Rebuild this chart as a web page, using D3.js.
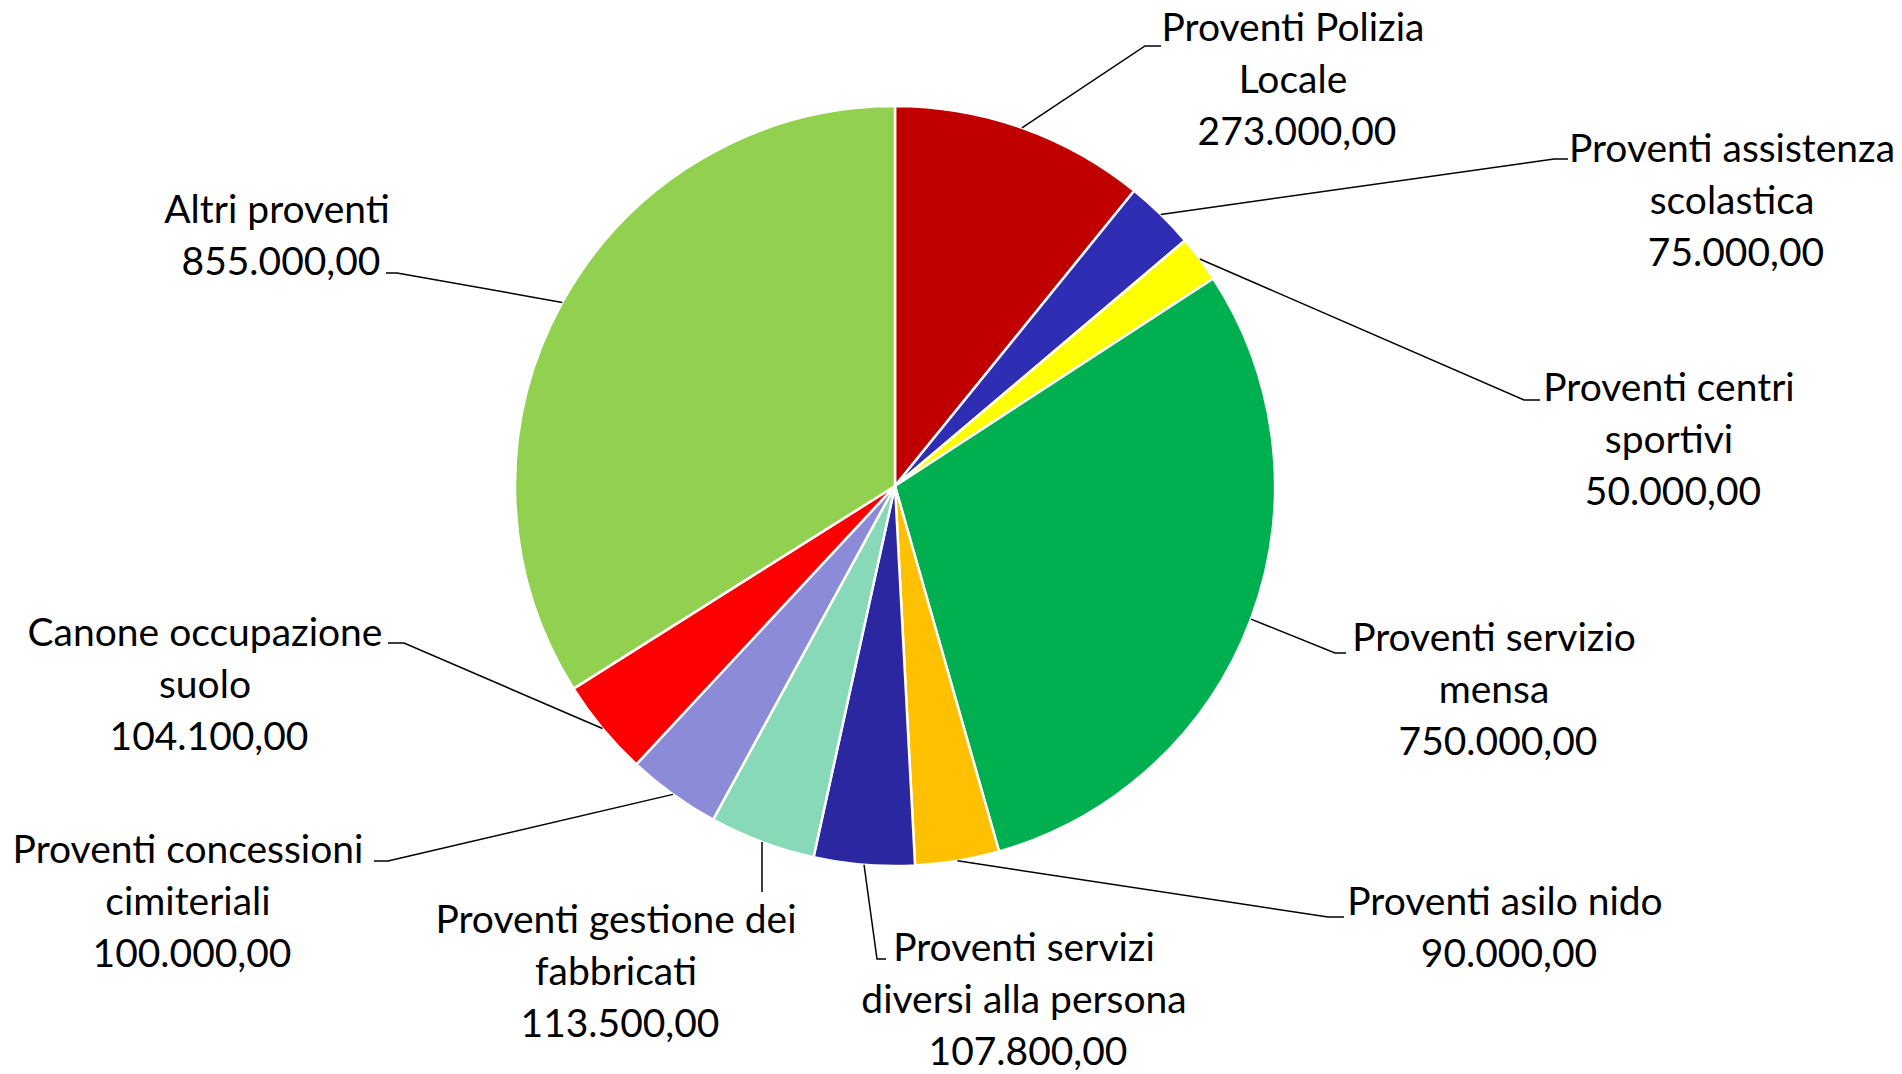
<!DOCTYPE html>
<html>
<head>
<meta charset="utf-8">
<script src="https://cdn.jsdelivr.net/npm/d3@7"></script>
<style>
  html, body { margin: 0; padding: 0; background: #ffffff; }
  svg { display: block; }
</style>
</head>
<body>
<svg id="chart" width="1902" height="1074"></svg>
<script>
// ---- data ----
const categories = [
  "Proventi Polizia\nLocale",
  "Proventi assistenza\nscolastica",
  "Proventi centri\nsportivi",
  "Proventi servizio\nmensa",
  "Proventi asilo nido",
  "Proventi servizi\ndiversi alla persona",
  "Proventi gestione dei\nfabbricati",
  "Proventi concessioni\ncimiteriali",
  "Canone occupazione\nsuolo",
  "Altri proventi"
];
const values = [273000, 75000, 50000, 750000, 90000, 107800, 113500, 100000, 104100, 855000];
const colors = ["#C00000", "#2F2DB4", "#FFFF00", "#00B050", "#FFC000", "#2A27A1", "#88D9B7", "#8B8BD7", "#FF0000", "#92D050"];

// ---- layout (label anchor: centre x, first-line centre y; leader elbow and end) ----
const labelLayout = [
  { lx: 1293, ly: 27,  ex: 1145, ey: 46,  hx: 1161 },
  { lx: 1732, ly: 148, ex: 1554, ey: 159, hx: 1568 },
  { lx: 1669, ly: 387, ex: 1524, ey: 400, hx: 1540 },
  { lx: 1494, ly: 637, ex: 1335, ey: 653, hx: 1346 },
  { lx: 1505, ly: 901, ex: 1328, ey: 917, hx: 1344 },
  { lx: 1024, ly: 947, ex: 877,  ey: 959, hx: 886 },
  { lx: 616,  ly: 919, ex: 762,  ey: 892, hx: 762 },
  { lx: 188,  ly: 849, ex: 388,  ey: 861, hx: 374 },
  { lx: 205,  ly: 632, ex: 404,  ey: 643, hx: 388 },
  { lx: 277,  ly: 209, ex: 397,  ey: 273, hx: 386 }
];

const cx = 895, cy = 486, R = 380;
const lineGap = 51.8;
const fontFamily = "Lato, 'Open Sans', sans-serif";

const it = d3.formatLocale({ decimal: ",", thousands: ".", grouping: [3], currency: ["€", ""] });
const fmt = it.format(",.2f");

const svg = d3.select("#chart");

// measure font size to match reference text width
const probe = svg.append("text").attr("font-family", fontFamily).attr("font-size", 100).text("Proventi Polizia");
const w100 = probe.node().getComputedTextLength();
probe.remove();
const fontSize = 100 * 263 / w100;

const data = categories.map((c, i) => ({ name: c, value: values[i], color: colors[i], layout: labelLayout[i] }));

const pie = d3.pie().value(d => d.value).sort(null);
const arcs = pie(data);
const arc = d3.arc().innerRadius(0).outerRadius(R);

const g = svg.append("g").attr("transform", `translate(${cx},${cy})`);

g.selectAll("path.slice")
  .data(arcs)
  .join("path")
  .attr("class", "slice")
  .attr("d", arc)
  .attr("fill", d => d.data.color)
  .attr("stroke", "#ffffff")
  .attr("stroke-width", 2.5)
  .attr("stroke-linejoin", "round");

// leader lines
svg.selectAll("path.leader")
  .data(arcs)
  .join("path")
  .attr("class", "leader")
  .attr("fill", "none")
  .attr("stroke", "#000000")
  .attr("stroke-width", 1.5)
  .attr("d", d => {
    const a = (d.startAngle + d.endAngle) / 2;
    const x0 = cx + R * Math.sin(a), y0 = cy - R * Math.cos(a);
    const L = d.data.layout;
    return `M${x0},${y0}L${L.ex},${L.ey}L${L.hx},${L.ey}`;
  });

// labels
const labels = svg.selectAll("text.lbl")
  .data(arcs)
  .join("text")
  .attr("class", "lbl")
  .attr("font-family", fontFamily)
  .attr("font-size", fontSize)
  .attr("fill", "#000000")
  .attr("text-anchor", "middle");

labels.each(function(d) {
  const lines = d.data.name.split("\n").concat([fmt(d.data.value)]);
  const L = d.data.layout;
  const t = d3.select(this);
  lines.forEach((ln, k) => {
    const isVal = k === lines.length - 1;
    t.append("tspan")
      .attr("x", L.lx + (isVal ? 4 : 0))
      .attr("y", L.ly + k * lineGap + fontSize * 0.36)
      .text(ln);
  });
});
</script>
</body>
</html>
